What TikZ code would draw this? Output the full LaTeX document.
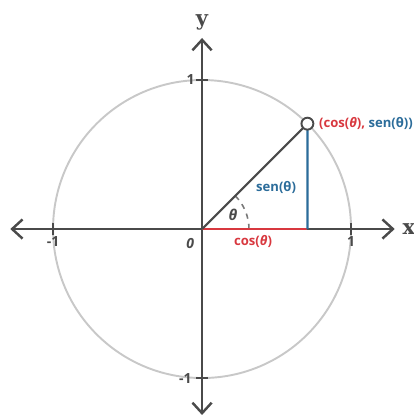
\documentclass[tikz,border=0pt]{standalone}
\usepackage{fontspec}
\setmainfont{Open Sans}
\newfontfamily\axisfont{DejaVu Serif}
\usepackage{tikz}
\usetikzlibrary{arrows.meta}
\definecolor{axisgray}{HTML}{4A4A4A}
\definecolor{circlegray}{HTML}{C8C8C8}
\definecolor{cosred}{HTML}{D8383F}
\definecolor{senblue}{HTML}{2B6C9A}

\begin{document}
\begin{tikzpicture}[scale=3,
    axis/.style={draw=axisgray, line width=1.4pt, {Straight Barb[length=6pt,width=11pt]}-{Straight Barb[length=6pt,width=11pt]}},
    tick/.style={draw=axisgray, line width=1pt},
    ticklabel/.style={font=\fontsize{8}{9}\selectfont\bfseries, text=axisgray, inner sep=1.5pt},
    lab/.style={font=\fontsize{7.5}{9}\selectfont\bfseries, inner sep=1pt}]
            % Fixed Bounding Box for alignment
            \useasboundingbox (-1.356,-1.275) rectangle (1.416,1.537);

            \def\unitcircle{(0,0) circle (1)}
            \coordinate (O) at (0,0);
            \coordinate (P) at (45:1);
            \coordinate (C) at (P |- O);

            % Circle and axes
            \draw[circlegray, line width=1.1pt] \unitcircle;
            \coordinate (xl) at (-1.287,0);
            \coordinate (xr) at (1.293,0);
            \coordinate (yb) at (0,-1.248);
            \coordinate (yt) at (0,1.282);
            \path[axis] (xl) -- (xr);
            \path[axis] (yb) -- (yt);
            \node[font=\axisfont\bfseries\large, text=axisgray, right=1pt] (xlab) at (xr) {x};
            \node[font=\axisfont\bfseries\large, text=axisgray, above=1pt] (ylab) at (yt) {y};

            % Ticks and labels
            \foreach \t in {1,-1}{
                \draw[tick] (\t,-0.04) -- (\t,0.04);
                \draw[tick] (-0.04,\t) -- (0.04,\t);
            }
            \node[ticklabel, below] (xone) at (1,-0.03) {1};
            \node[ticklabel, below] (xminus) at (-1,-0.03) {-1};
            \node[ticklabel, left] (yone) at (-0.03,1) {1};
            \node[ticklabel, left] (yminus) at (-0.05,-1) {-1};
            \node[ticklabel, font=\fontsize{8}{9}\selectfont\bfseries\itshape] (zero) at (-0.08,-0.095) {0};

            % Angle
            \draw[circlegray!60!black, dashed, line width=0.9pt] (0.315,0) arc (0:45:0.315);
            \node[lab, text=axisgray, font=\fontsize{8.5}{10}\selectfont\bfseries\itshape] (theta) at (0.208,0.094) {θ};

            % Triangle
            \draw[cosred, line width=1.4pt] (O) -- (C);
            \draw[senblue, line width=1.3pt] (C) -- (P);
            \draw[axisgray, line width=1.2pt] (O) -- (P);
            \node[lab, text=senblue] (sen) at (0.497,0.282) {sen(θ)};
            \node[lab, text=cosred] (cos) at (0.342,-0.087) {cos(\textit{θ})};
            \draw[axisgray, line width=1.1pt, fill=white] (P) circle (0.04);
            \node[lab, anchor=west, xshift=5.5pt] (plab) at (P) {\textcolor{cosred}{(cos(\textit{θ}),} \textcolor{senblue}{sen(θ))}};
        \end{tikzpicture}
\end{document}
